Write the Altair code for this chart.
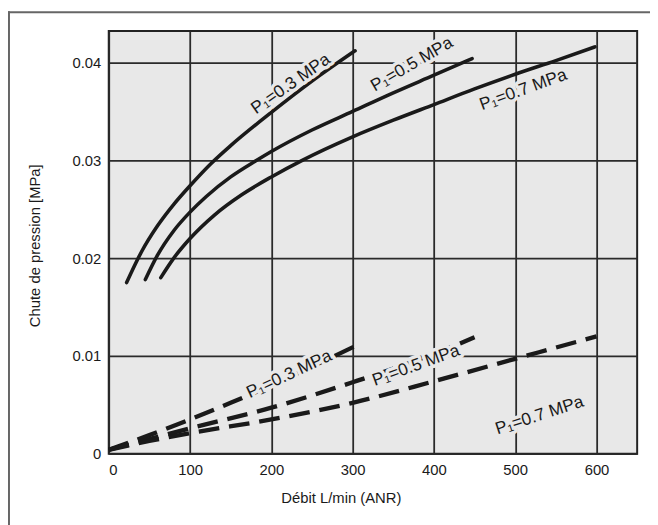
import altair as alt
import pandas as pd

# ---- data ----
solid_03_x = [22, 40, 60, 80, 100, 125, 150, 200, 250, 303]
solid_03_y = [0.0175, 0.0206, 0.0233, 0.0255, 0.0274, 0.0296, 0.0315, 0.0349, 0.0381, 0.0412]

solid_05_x = [45, 60, 80, 100, 120, 150, 182, 200, 250, 300, 350, 400, 447]
solid_05_y = [0.0178, 0.0203, 0.0228, 0.0247, 0.0263, 0.0283, 0.0300, 0.0309, 0.0331, 0.0350, 0.0369, 0.0387, 0.0404]

solid_07_x = [64, 80, 100, 130, 164, 200, 238, 300, 350, 400, 450, 500, 550, 598]
solid_07_y = [0.0180, 0.0200, 0.0220, 0.0244, 0.0265, 0.0283, 0.0300, 0.0324, 0.0341, 0.0357, 0.0373, 0.0388, 0.0402, 0.0416]

dash_03_x = [0, 50, 100, 150, 200, 250, 303]
dash_03_y = [0.0004, 0.0019, 0.0035, 0.0052, 0.0070, 0.0089, 0.0110]

dash_05_x = [0, 50, 100, 200, 300, 400, 450]
dash_05_y = [0.0004, 0.0015, 0.0026, 0.0047, 0.0073, 0.0102, 0.0119]

dash_07_x = [0, 50, 100, 200, 300, 400, 500, 600]
dash_07_y = [0.0004, 0.0013, 0.0021, 0.0035, 0.0052, 0.0074, 0.0097, 0.0120]

x_ticks = [0, 100, 200, 300, 400, 500, 600]
y_ticks = [0, 0.01, 0.02, 0.03, 0.04]

label_text = ["P\u2081=0.3 MPa", "P\u2081=0.5 MPa", "P\u2081=0.7 MPa",
              "P\u2081=0.3 MPa", "P\u2081=0.5 MPa", "P\u2081=0.7 MPa"]
label_x = [224, 373, 510, 222, 378, 530]
label_y = [0.0378, 0.0398, 0.0372, 0.0081, 0.0090, 0.0039]
label_angle = [325, 330, 340, 335, 340, 342]

# ---- tables ----
def series(name, xs, ys):
    return pd.DataFrame({"series": name, "x": xs, "y": ys, "order": range(len(xs))})

solid = pd.concat([
    series("s03", solid_03_x, solid_03_y),
    series("s05", solid_05_x, solid_05_y),
    series("s07", solid_07_x, solid_07_y),
])
dashed = pd.concat([
    series("d03", dash_03_x, dash_03_y),
    series("d05", dash_05_x, dash_05_y),
    series("d07", dash_07_x, dash_07_y),
])
labels = pd.DataFrame({"t": label_text, "x": label_x, "y": label_y, "a": label_angle})

FONT = "Liberation Sans, Arial, DejaVu Sans"
BG = "#e8e8e8"

xs = alt.Scale(domain=[0, 650], nice=False)
ys = alt.Scale(domain=[0, 0.04323], nice=False)

x_axis = alt.Axis(values=x_ticks, title="Débit L/min (ANR)", grid=True, ticks=False,
                  domain=False, labelPadding=9, titleX=235, titleY=44,
                  titleAlign="center", titleBaseline="middle")
y_axis = alt.Axis(values=y_ticks, title="Chute de pression [MPa]", grid=True, ticks=False,
                  domain=False, labelPadding=8, format="~g", titleX=-75, titleY=217,
                  titleAlign="center", titleBaseline="middle", titleAngle=270)

base_solid = alt.Chart(solid).mark_line(color="#1a1a1a", strokeWidth=3.6,
                                        interpolate="monotone", strokeCap="round").encode(
    x=alt.X("x:Q", scale=xs, axis=x_axis),
    y=alt.Y("y:Q", scale=ys, axis=y_axis),
    detail="series:N",
    order="order:Q",
)

base_dash = alt.Chart(dashed).mark_line(color="#1a1a1a", strokeWidth=4.4,
                                        strokeDash=[21, 10], interpolate="monotone").encode(
    x=alt.X("x:Q", scale=xs),
    y=alt.Y("y:Q", scale=ys),
    detail="series:N",
    order="order:Q",
)

halo = alt.Chart(labels).mark_text(font=FONT, fontSize=17.5, color=BG, stroke=BG,
                                   strokeWidth=7, strokeJoin="round").encode(
    x=alt.X("x:Q", scale=xs), y=alt.Y("y:Q", scale=ys), text="t:N", angle=alt.Angle("a:Q", scale=None))
txt = alt.Chart(labels).mark_text(font=FONT, fontSize=17.5, color="#1a1a1a").encode(
    x=alt.X("x:Q", scale=xs), y=alt.Y("y:Q", scale=ys), text="t:N", angle=alt.Angle("a:Q", scale=None))

frame_top = alt.Chart(pd.DataFrame({"k": [0]})).mark_rule(color="#666", strokeWidth=2).encode(
    x=alt.value(-102), x2=alt.value(560), y=alt.value(-19))
frame_left = alt.Chart(pd.DataFrame({"k": [0]})).mark_rule(color="#666", strokeWidth=2).encode(
    x=alt.value(-101), y=alt.value(-20), y2=alt.value(520))

chart = alt.layer(base_solid, base_dash, halo, txt, frame_top, frame_left).properties(
    width=535, height=428,
    autosize="none",
    padding={"left": 102, "top": 20, "right": 13, "bottom": 69},
    background="white",
).configure_view(
    fill=BG, stroke="#222", strokeWidth=2
).configure_axis(
    gridColor="#2a2a2a", gridWidth=1.8, gridOpacity=1,
    labelFont=FONT, labelFontSize=15, labelColor="#1a1a1a",
    titleFont=FONT, titleFontSize=15, titleFontWeight="normal", titleColor="#1a1a1a",
)

chart.save("out.html", embed_options={"renderer": "svg", "actions": False})
